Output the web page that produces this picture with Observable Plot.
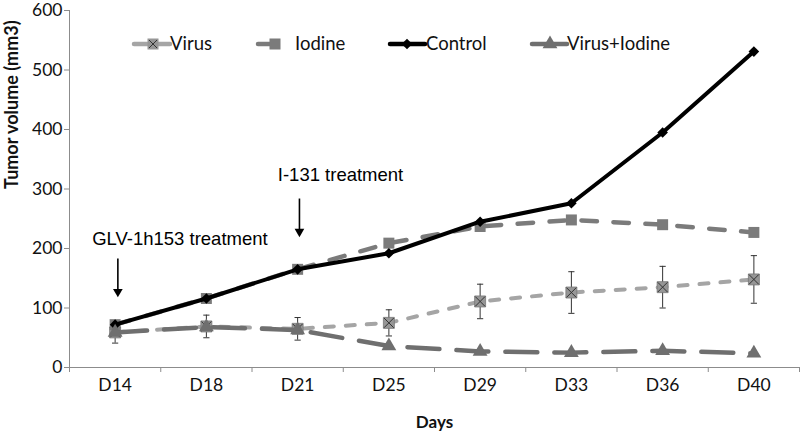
<!DOCTYPE html>
<html><head><meta charset="utf-8">
<script src="https://cdn.jsdelivr.net/npm/d3@7"></script>
<script src="https://cdn.jsdelivr.net/npm/@observablehq/plot@0.6"></script>
<style>
body{margin:0;background:#fff;}
#chart{position:relative;width:800px;height:435px;background:#fff;}
#legend{position:absolute;left:0;top:0;}
</style></head><body><div id="chart"></div>
<script>
const days = ["D14","D18","D21","D25","D29","D33","D36","D40"];
const control = [72,116,165,192,245,276,395,531];
const iodine = [72,116,165,209,237,248,240,227];
const virus = [59,69,65,75,111,126,135,148];
const virusErr = [18,19,19,22,29,35,35,40];
const virusIodine = [59,68,63,36,27,25,28,24];
const yTicks = [0,100,200,300,400,500,600];
const seriesNames = ["Virus","Iodine","Control","Virus+Iodine"];
const annotations = [
  {label:"GLV-1h153 treatment", xi:1.21, y:215, ax:0.53, ay1:183, ay2:124},
  {label:"I-131 treatment", xi:2.97, y:323, ax:2.52, ay1:284, ay2:225}
];

const rows = days.map((d,i)=>({day:d, xi:i+0.5, virus:virus[i], lo:virus[i]-virusErr[i], hi:virus[i]+virusErr[i], iodine:iodine[i], control:control[i], vi:virusIodine[i]}));

const capSymbol = {draw(ctx, size){ const w = Math.sqrt(size)/2; ctx.moveTo(-w,0); ctx.lineTo(w,0); }};

const C = {virus:"#a5a5a5", virusMark:"#969696", iodine:"#7b7b7b", control:"#000", vi:"#6f6f6f"};

const plot = Plot.plot({
  width:800, height:435, marginLeft:69, marginRight:1, marginTop:10, marginBottom:68,
  style:{fontFamily:"Lato, sans-serif", fontSize:"17px", color:"#111", background:"#fff"},
  x:{domain:[0, days.length], axis:null},
  y:{domain:[0,600], axis:null},
  marks:[
    Plot.axisY({ticks:yTicks, tickSize:5, tickPadding:2, stroke:"#8c8c8c", label:null, fontSize:17.5}),
    Plot.axisX({ticks:d3.range(days.length+1), tickSize:5, tickFormat:()=>"", stroke:"#8c8c8c", label:null}),
    Plot.axisX({ticks:rows.map(r=>r.xi), tickSize:0, tickPadding:11, tickFormat:v=>days[Math.floor(v)], label:null, fontSize:17.5}),
    Plot.ruleX([0], {stroke:"#8c8c8c"}),
    Plot.ruleY([0], {stroke:"#8c8c8c"}),
    Plot.text(["Days"], {frameAnchor:"bottom", dy:55, lineAnchor:"middle", fontWeight:"bold", fontSize:17, fill:"#111"}),
    Plot.text(["Tumor volume (mm3)"], {frameAnchor:"left", rotate:-90, dx:-57, fontWeight:"bold", fontSize:18, fill:"#111"}),
    // Virus
    Plot.line(rows, {x:"xi", y:"virus", stroke:C.virus, strokeWidth:4, strokeDasharray:"9,12", strokeLinecap:"round"}),
    Plot.ruleX(rows, {x:"xi", y1:"lo", y2:"hi", stroke:"#333", strokeWidth:1}),
    Plot.dot(rows, {x:"xi", y:"lo", symbol:capSymbol, r:3.5, fill:"none", stroke:"#333", strokeWidth:1}),
    Plot.dot(rows, {x:"xi", y:"hi", symbol:capSymbol, r:3.5, fill:"none", stroke:"#333", strokeWidth:1}),
    Plot.dot(rows, {x:"xi", y:"virus", symbol:"square", r:6.2, fill:C.virusMark, stroke:"#777", strokeWidth:0.8}),
    Plot.dot(rows, {x:"xi", y:"virus", symbol:"times", r:4.5, stroke:"#333", strokeWidth:1}),
    // Iodine
    Plot.line(rows, {x:"xi", y:"iodine", stroke:C.iodine, strokeWidth:4.5, strokeDasharray:"15.5,16.5", strokeLinecap:"round"}),
    Plot.dot(rows, {x:"xi", y:"iodine", symbol:"square", r:6.2, fill:C.iodine}),
    // Control
    Plot.line(rows, {x:"xi", y:"control", stroke:C.control, strokeWidth:4}),
    Plot.dot(rows, {x:"xi", y:"control", symbol:"diamond2", r:4.8, fill:C.control}),
    // Virus+Iodine
    Plot.line(rows, {x:"xi", y:"vi", stroke:C.vi, strokeWidth:4.5, strokeDasharray:"32,17", strokeLinecap:"round"}),
    Plot.dot(rows, {x:"xi", y:"vi", symbol:"triangle", r:5.5, fill:C.vi}),
    // Annotations
    Plot.text(annotations, {x:"xi", y:"y", text:"label", fontFamily:"'Liberation Sans', Arial, sans-serif", fontSize:18.5, fill:"#000"}),
    Plot.link(annotations, {x1:"ax", x2:"ax", y1:"ay1", y2:"ay2", stroke:"#000", strokeWidth:1.6}),
    Plot.dot(annotations, {x:"ax", y:"ay2", symbol:"triangle", rotate:180, r:3.6, fill:"#000", dy:-2})
  ]
});

const chart = document.getElementById("chart");
chart.appendChild(plot);

// Legend overlay
const lg = d3.create("svg").attr("id","legend").attr("width",800).attr("height",70)
  .style("font-family","Lato, sans-serif").style("font-size","18.5px");
const ly = 44;
const items = [
  {name:seriesNames[0], x1:134, x2:170, mx:153, tx:170, stroke:C.virus},
  {name:seriesNames[1], x1:258, x2:274, mx:275, tx:295, stroke:C.iodine},
  {name:seriesNames[2], x1:390, x2:425, mx:407, tx:426, stroke:C.control},
  {name:seriesNames[3], x1:532, x2:567, mx:550, tx:567, stroke:C.vi}
];
items.forEach((it,i)=>{
  const g = lg.append("g");
  g.append("line").attr("x1",it.x1).attr("x2",it.x2).attr("y1",ly).attr("y2",ly)
    .attr("stroke",it.stroke).attr("stroke-width",4.5).attr("stroke-linecap","round");
  if(i===0){
    g.append("rect").attr("x",it.mx-5.5).attr("y",ly-5.5).attr("width",11).attr("height",11).attr("fill",C.virusMark);
    g.append("path").attr("d",`M${it.mx-4},${ly-4}L${it.mx+4},${ly+4}M${it.mx-4},${ly+4}L${it.mx+4},${ly-4}`).attr("stroke","#333").attr("stroke-width",1);
  } else if(i===1){
    g.append("rect").attr("x",it.mx-5.5).attr("y",ly-5.5).attr("width",11).attr("height",11).attr("fill",C.iodine);
  } else if(i===2){
    g.append("path").attr("d",d3.symbol(d3.symbolDiamond2, Math.PI*4.8*4.8)()).attr("transform",`translate(${it.mx},${ly})`).attr("fill","#000");
  } else {
    g.append("path").attr("d",d3.symbol(d3.symbolTriangle, Math.PI*5.5*5.5)()).attr("transform",`translate(${it.mx},${ly})`).attr("fill",C.vi);
  }
  g.append("text").attr("x",it.tx).attr("y",ly).attr("dy","0.35em").attr("fill","#111").text(it.name);
});
chart.appendChild(lg.node());
</script></body></html>
